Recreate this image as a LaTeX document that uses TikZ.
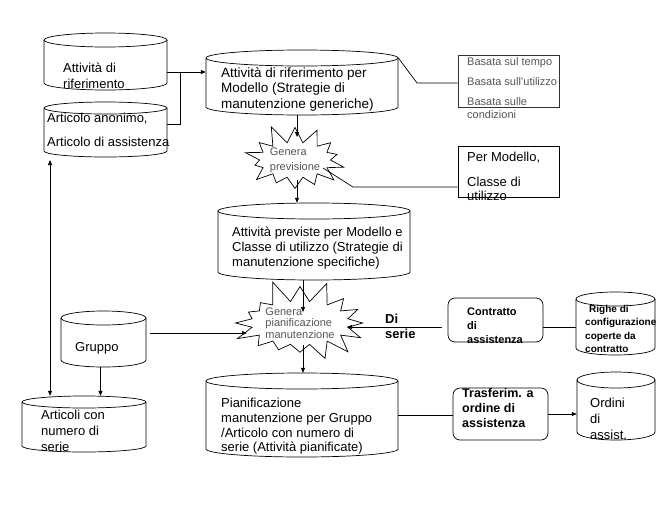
\documentclass[tikz,border=0pt]{standalone}
\usepackage{fontspec}
\setmainfont{Liberation Sans}
\usetikzlibrary{shapes.symbols,arrows.meta}
\definecolor{gtext}{RGB}{85,85,85}
\tikzset{
  ln/.style={line width=0.7pt, draw=black},
  arr/.style={ln, -{Triangle[length=5pt,width=4pt]}},
  darr/.style={ln, {Triangle[length=5pt,width=4pt]}-{Triangle[length=5pt,width=4pt]}},
  body/.style={rectangle, draw=none, inner sep=0pt},
  txt/.style={anchor=north west, align=left, inner sep=0pt, font=\fontsize{13}{15.5}\selectfont},
  gtxt/.style={anchor=north west, align=left, inner sep=0pt, text=gtext, font=\fontsize{11}{13}\selectfont},
  btxt/.style={anchor=north west, align=left, inner sep=0pt, font=\bfseries\fontsize{11}{14}\selectfont},
  boxn/.style={rectangle, draw, line width=0.7pt, inner sep=0pt},
  rbox/.style={boxn, rounded corners=7pt},
  burst/.style={starburst, draw, line width=0.7pt, text=gtext, align=left, inner sep=0pt}
}
\newcommand\mycyl[6]{%
  \pgfmathsetmacro\cx{(#2+#4)/2}\pgfmathsetmacro\cy{(#3+#5)/2}%
  \pgfmathsetmacro\cw{#4-#2}\pgfmathsetmacro\ch{#5-#3}\pgfmathsetmacro\rx{(#4-#2)/2}%
  \node[body, minimum width=\cw pt, minimum height=\ch pt] (#1) at (\cx,\cy) {};
  \draw[ln] (\cx,#3+#6) ellipse[x radius=\rx pt, y radius=#6pt];
  \draw[ln] (#2,#3+#6) -- (#2,#5-#6) arc[start angle=180, end angle=360, x radius=\rx pt, y radius=#6pt] -- (#4,#3+#6);
}
\begin{document}
\begin{tikzpicture}[x=1pt,y=-1pt]
\useasboundingbox (0,0) rectangle (672,504);
% cylinders
\mycyl{A}{44}{33}{167}{90}{7}
\mycyl{B}{44}{102}{167}{157}{6}
\mycyl{C}{206}{50}{398}{115}{8}
\mycyl{D}{218}{203}{410}{280}{8}
\mycyl{E}{61}{311}{146}{367}{7}
\mycyl{F}{22}{396}{146}{452}{6}
\mycyl{G}{206}{373}{398}{457}{8}
\mycyl{H}{576}{292}{655}{355}{7}
\mycyl{I}{577}{372}{655}{440}{8}
% boxes
\node[boxn, draw=black!80, minimum width=101pt, minimum height=52pt] (Bas) at (508.5,81) {};
\node[boxn, minimum width=101pt, minimum height=51pt] (PM) at (508.5,171.5) {};
\node[rbox, minimum width=95pt, minimum height=44pt] (Con) at (495.5,320) {};
\node[rbox, minimum width=95pt, minimum height=52pt] (T) at (500.5,414) {};
% starbursts
\node[burst, starburst points=14, starburst point height=20pt, random starburst=11,
      minimum width=99pt, minimum height=66pt, font=\fontsize{11}{15}\selectfont] (S1) at (295,160) {Genera\\previsione};
\node[burst, starburst points=16, starburst point height=24pt, random starburst=5,
      minimum width=120pt, minimum height=82pt, font=\fontsize{11}{11.5}\selectfont] (S2) at (300,323) {Genera\\pianificazione\\manutenzione};
% texts
\node[txt] (tA) at (63,63) {Attività di\\riferimento};
\node[txt, font=\fontsize{13}{16}\selectfont] (tB) at (47,113) {Articolo anonimo,\\[8pt]Articolo di assistenza};
\node[txt, font=\fontsize{13.5}{15.5}\selectfont] (tC) at (221,67) {Attività di riferimento per\\Modello (Strategie di\\manutenzione generiche)};
\node[txt, font=\fontsize{13}{15}\selectfont] (tD) at (232,227) {Attività previste per Modello e\\Classe di utilizzo (Strategie di\\manutenzione specifiche)};
\node[txt] (tE) at (75,342) {Gruppo};
\node[txt, font=\fontsize{13}{16}\selectfont] (tF) at (41,410) {Articoli con\\numero di\\serie};
\node[txt, font=\fontsize{13}{14.7}\selectfont] (tG) at (221,398) {Pianificazione\\manutenzione per Gruppo\\/Articolo con numero di\\serie (Attività pianificate)};
\node[gtxt] (tBas) at (467,57) {Basata sul tempo\\[7pt]Basata sull'utilizzo\\[7pt]Basata sulle\\condizioni};
\node[txt, font=\fontsize{13}{14}\selectfont] (tPM) at (467,152) {Per Modello,\\[11pt]Classe di\\utilizzo};
\node[txt, font=\bfseries\fontsize{13}{15}\selectfont] (tDi) at (385,314) {Di\\serie};
\node[btxt] (tCon) at (467,308) {Contratto\\di\\assistenza};
\node[btxt, font=\bfseries\fontsize{10}{13.5}\selectfont] (tH) at (585,305) {\hspace{4pt}Righe di\\configurazione\\coperte da\\contratto};
\node[btxt, font=\bfseries\fontsize{12.5}{15}\selectfont] (tT) at (462,388) {Trasferim. a\\ordine di\\assistenza};
\node[txt, font=\fontsize{13}{16}\selectfont] (tI) at (590,398) {Ordini\\di\\assist.};
% connectors
\coordinate (j1) at (180,72);
\coordinate (j2) at (180,124);
\draw[arr] (A.east |- j1) -- (C.west |- j1);
\draw[ln] (B.east |- j2) -- (j2) -- (j1);
\coordinate (k1) at (417,83);
\draw[ln] ([yshift=-8pt]C.north east) -- (k1) -- (k1 -| Bas.west);
\coordinate (s1t) at (297,137);
\draw[arr] (C.south -| s1t) -- (s1t);
\coordinate (s1b) at (297,180);
\draw[arr] (s1b) -- (s1b |- D.north);
\coordinate (s1r) at (323,168);
\coordinate (k2) at (353,187);
\draw[ln] (s1r) -- (k2) -- (k2 -| PM.west);
\coordinate (s2t) at (303,312);
\draw[arr] (D.south -| s2t) -- (s2t);
\coordinate (s2b) at (303,345);
\draw[arr] (s2b) -- (s2b |- G.north);
\coordinate (s2l) at (247,333);
\draw[arr, shorten <=4pt] (E.east |- s2l) -- (s2l);
\coordinate (s2r) at (347,327);
\draw[arr, shorten <=6pt] (Con.west |- s2r) -- (s2r);
\draw[ln] (Con.east |- s2r) -- (H.west |- s2r);
\draw[ln] (G.east) -- (G.east -| T.west);
\draw[arr] (T.east) -- (T.east -| I.west);
\draw[arr] ([xshift=-3pt]E.south) -- ([xshift=-3pt]E.south |- F.north);
\coordinate (v1) at (50,160);
\draw[darr] (v1) -- (v1 |- F.north);
\end{tikzpicture}
\end{document}
